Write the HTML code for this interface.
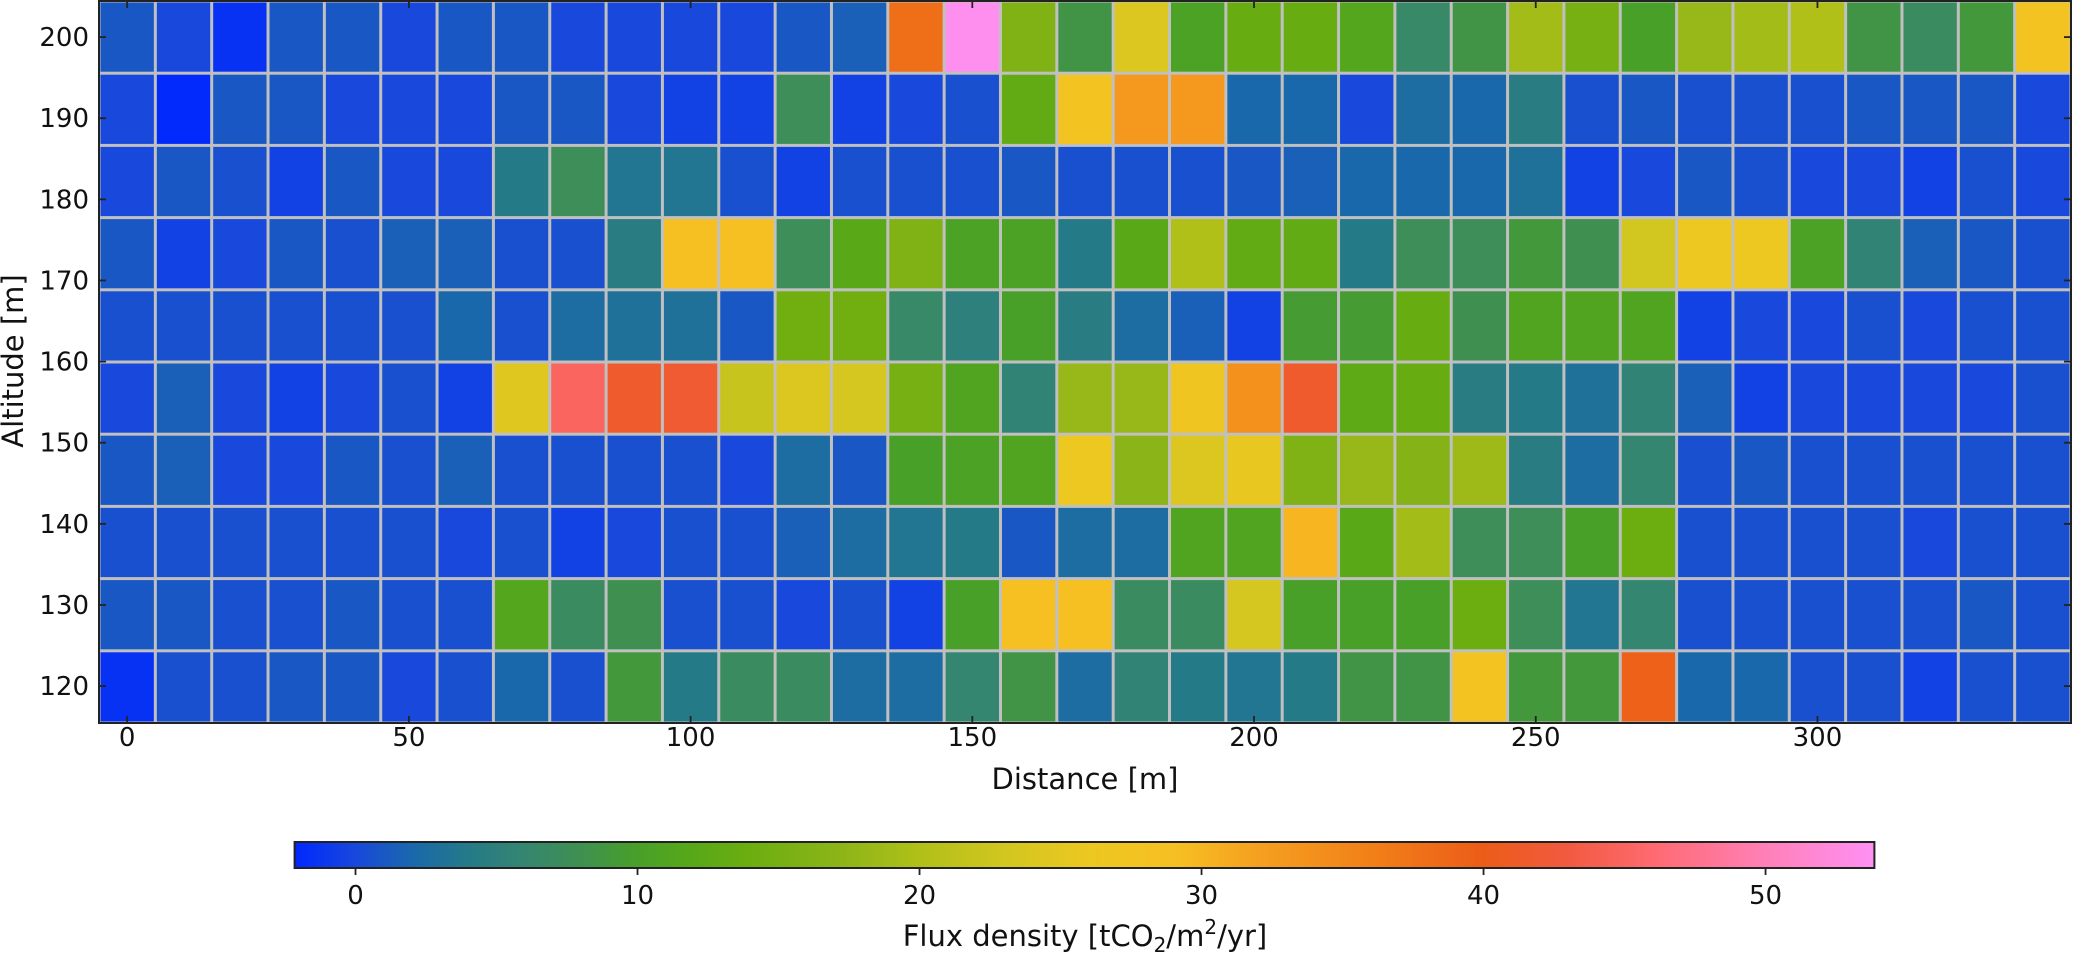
<!DOCTYPE html>
<html><head><meta charset="utf-8">
<style>
html,body{margin:0;padding:0;background:#fff;}
svg{display:block;font-family:"DejaVu Sans","Liberation Sans",sans-serif;}
</style></head>
<body>
<svg id="chart" width="2073" height="953" viewBox="0 0 2073 953" xmlns="http://www.w3.org/2000/svg">
<defs>
<linearGradient id="cbgrad" x1="0" x2="1" y1="0" y2="0"></linearGradient>
</defs>
<g id="cells"></g>
<g id="axes"></g>
<g id="cbar"></g>
</svg>
<script>
const distances = [0,10,20,30,40,50,60,70,80,90,100,110,120,130,140,150,160,170,180,190,200,210,220,230,240,250,260,270,280,290,300,310,320,330,340];
const altitudes = [200,191.1,182.2,173.3,164.4,155.5,146.6,137.7,128.8,119.9];
const xTicks = [0,50,100,150,200,250,300];
const yTicks = [120,130,140,150,160,170,180,190,200];
const cbTicks = [0,10,20,30,40,50];
const flux = [
[1,0,-1.5,1,1,0,1,1,0,0,0,0,1,1.5,38,53.5,16,8.5,24,10.5,13.5,13.5,11.5,6.5,8.5,19,15,10,18,19,20,8.5,7,9,28],
[0,-2,1,1,0,0,0,1,1,0,-0.5,-0.5,7.5,-0.5,0,0.5,13,28,33,33,2,2,0,2.5,2,4.5,0.5,1,0.5,0.5,0.5,1,1,1,0],
[0,1,0.5,-0.5,1,0,0,4,7.5,3.5,3.5,0.5,-0.5,0.5,0.5,0.5,1,0.5,0.5,0.5,1,1.5,2,2,2,3,-0.5,0,1,0.5,0,0,-0.5,0.5,0],
[1,-0.5,0,1,0.5,1.5,1.5,0.5,0.5,4.5,29,29,7.5,12,16,10.5,10.5,4,12,20,13,13,4,7.5,7.5,9,8,23,26,26,10.5,5.5,1.5,1,0.5],
[0.5,0.5,0.5,0.5,0.5,0.5,2,0.5,2.5,3,3,1,14.5,14.5,6.5,5,10,4.5,2.5,1.5,-0.5,9.5,9.5,13.5,8,11,11,11,-0.5,0,0,0.5,0,0.5,0.5],
[0,1.5,0,-0.5,0,0.5,-0.5,24.5,45,41.5,42,22,24,23.5,15,11,5.5,18,18,27,34,41.5,12.5,13.5,4.5,4,3,5.5,1.5,-0.5,0,0,0,0,0.5],
[1,1.5,0,0,1,0.5,1.5,0.5,0.5,0.5,0.5,0,2.5,1,10,10.5,11,26,17,24,25.5,16,18,16.5,18.5,4.5,2.5,6,0.5,1,0.5,0.5,0.5,0.5,0.5],
[0.5,0.5,0.5,0.5,0.5,0.5,0,0.5,-0.5,0,0.5,0.5,1.5,2.5,3.5,4,1,2.5,2.5,11,11,30,12,19,7.5,7.5,10,14,0.5,0.5,0.5,0.5,0,0.5,0.5],
[1,1,0.5,0.5,1,0.5,0.5,11.5,7,8,0.5,0.5,0,0.5,-0.5,10,29,29,7,7,23.5,10,10,10,14,7.5,3.5,6,0.5,0.5,0.5,0.5,0.5,1,0.5],
[-1.5,0.5,0.5,1,1,0,0.5,2,0.5,9,4,7,7,2.5,2.5,6,8.5,2.5,5.5,4,3.5,4,8.5,8.5,28,9,9,39.5,2,2,0.5,0.5,-0.5,0.5,0.5]
];
const cmapValues = [-2.16,0,2,4,6,8,10,12,14,17,20,23,26,29,32,36,40,43,46,50,53.86];
const cmapColors = ["#0028ff","#1848dc","#1a68ac","#257a88","#358670","#3f9050","#48a028","#58a818","#6cae10","#8ab418","#b0c018","#d2c620","#ecc820","#f6c022","#f5a020","#f28018","#ec5c18","#f25a40","#fe6a70","#ff80b8","#ff90f4"];

const NS="http://www.w3.org/2000/svg";
const P={l:99,r:2071,t:1,b:723};
const xMin=-5,xMax=345,yMin=115.45,yMax=204.45;
const xs=v=>P.l+(v-xMin)/(xMax-xMin)*(P.r-P.l);
const ys=v=>P.b-(v-yMin)/(yMax-yMin)*(P.b-P.t);
const CB={l:294.6,r:1874.4,t:842,b:868,min:-2.16,max:53.86};
const cs=v=>CB.l+(v-CB.min)/(CB.max-CB.min)*(CB.r-CB.l);
function hex(h){return [1,3,5].map(i=>parseInt(h.substr(i,2),16));}
function color(v){
  if(v<=cmapValues[0])return cmapColors[0];
  for(let i=1;i<cmapValues.length;i++){
    if(v<=cmapValues[i]){
      const t=(v-cmapValues[i-1])/(cmapValues[i]-cmapValues[i-1]);
      const a=hex(cmapColors[i-1]),b=hex(cmapColors[i]);
      return "rgb("+a.map((c,k)=>Math.round(c+(b[k]-c)*t)).join(",")+")";
    }
  }
  return cmapColors[cmapColors.length-1];
}
function mk(tag,attrs,parent){const e=document.createElementNS(NS,tag);for(const k in attrs)e.setAttribute(k,attrs[k]);parent.appendChild(e);return e;}

const gCells=document.getElementById('cells');
mk('rect',{x:P.l,y:P.t,width:P.r-P.l,height:P.b-P.t,fill:'#c0c0c0'},gCells);
const dw=10, dh=8.9;
flux.forEach((row,ri)=>{
  row.forEach((v,ci)=>{
    const x0=xs(distances[ci]-dw/2),x1=xs(distances[ci]+dw/2);
    const y0=ys(altitudes[ri]+dh/2),y1=ys(altitudes[ri]-dh/2);
    const r=mk('rect',{x:x0+1.5,y:y0+1.5,width:x1-x0-3,height:y1-y0-3,fill:color(v)},gCells);
    
    
  });
});

const gA=document.getElementById('axes');
mk('rect',{x:P.l,y:P.t,width:P.r-P.l,height:P.b-P.t,fill:'none',stroke:'#222',"stroke-width":2},gA);
xTicks.forEach(v=>{
  const x=xs(v);
  mk('line',{x1:x,x2:x,y1:P.b,y2:P.b-7,stroke:'#222',"stroke-width":1.8},gA);
  mk('line',{x1:x,x2:x,y1:P.t,y2:P.t+7,stroke:'#222',"stroke-width":1.8},gA);
  const t=mk('text',{x:x,y:746,"font-size":26,"text-anchor":"middle",fill:'#111'},gA);
  t.textContent=v;
  
  
});
yTicks.forEach(v=>{
  const y=ys(v);
  mk('line',{x1:P.l,x2:P.l+7,y1:y,y2:y,stroke:'#222',"stroke-width":1.8},gA);
  mk('line',{x1:P.r,x2:P.r-7,y1:y,y2:y,stroke:'#222',"stroke-width":1.8},gA);
  const t=mk('text',{x:89,y:y+9,"font-size":26,"text-anchor":"end",fill:'#111'},gA);
  t.textContent=v;
  
  
});
const xl=mk('text',{x:1085,y:789,"font-size":29,"text-anchor":"middle",fill:'#111'},gA);
xl.textContent='Distance [m]';


const yl=mk('text',{x:0,y:0,"font-size":29,"text-anchor":"middle",fill:'#111',transform:'translate(23,361) rotate(-90)'},gA);
yl.textContent='Altitude [m]';



const grad=document.getElementById('cbgrad');
cmapValues.forEach((v,i)=>{
  mk('stop',{offset:((v-CB.min)/(CB.max-CB.min)).toFixed(4),"stop-color":cmapColors[i]},grad);
});
const gC=document.getElementById('cbar');
const cbRect=mk('rect',{x:CB.l,y:CB.t,width:CB.r-CB.l,height:CB.b-CB.t,fill:'url(#cbgrad)',stroke:'#222',"stroke-width":2},gC);


cbTicks.forEach(v=>{
  const x=cs(v);
  mk('line',{x1:x,x2:x,y1:CB.b,y2:CB.b+7,stroke:'#222',"stroke-width":1.8},gC);
  const t=mk('text',{x:x,y:904,"font-size":26,"text-anchor":"middle",fill:'#111'},gC);
  t.textContent=v;
  
  
});
const cl=mk('text',{x:1085,y:946,"font-size":29,"text-anchor":"middle",fill:'#111'},gC);
cl.innerHTML='Flux density [tCO<tspan font-size="20" dy="6">2</tspan><tspan dy="-6">/m</tspan><tspan font-size="20" dy="-12">2</tspan><tspan dy="12">/yr]</tspan>';


</script>
</body></html>
